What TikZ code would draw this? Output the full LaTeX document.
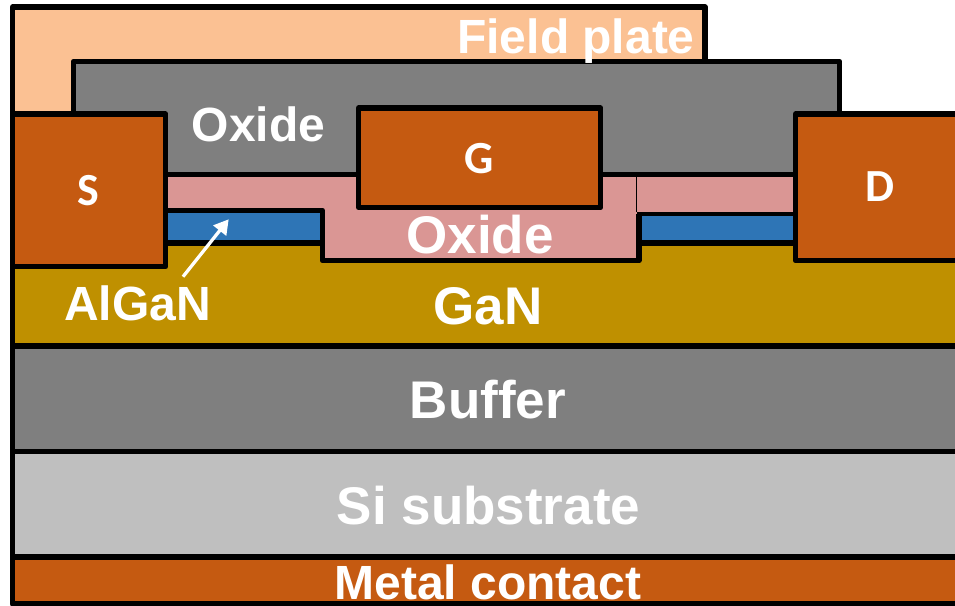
\documentclass[tikz,border=0pt]{standalone}
\usepackage{fontspec}
\usetikzlibrary{arrows.meta}
\setmainfont{Liberation Sans}
\newfontfamily\capfont{Carlito}
\definecolor{fp}{HTML}{FBC193}
\definecolor{oxg}{HTML}{7F7F7F}
\definecolor{metal}{HTML}{C55A11}
\definecolor{oxp}{HTML}{DA9694}
\definecolor{alg}{HTML}{2E75B6}
\definecolor{gan}{HTML}{BF9000}
\definecolor{si}{HTML}{BFBFBF}
\tikzset{x=1pt,y=-1pt,
 layer/.style={draw=black,line width=5.2pt,line join=round},
 lab/.style={text=white,font=\bfseries\fontsize{48}{50}\selectfont,inner sep=0pt},
 labbig/.style={text=white,font=\bfseries\fontsize{53}{55}\selectfont,inner sep=0pt},
 lab2/.style={text=white,font=\capfont\bfseries\fontsize{46}{48}\selectfont,inner sep=0pt}}
\begin{document}
\begin{tikzpicture}
\useasboundingbox (0,0) rectangle (955,605);
\path[fill=white] (0,0) rectangle (955,605);
% lower layers
\draw[layer,fill=gan] (12.5,243) -- (960,243) -- (960,346) -- (12.5,346) -- cycle;
\draw[layer,fill=oxg] (12.5,346) rectangle (960,451.7);
\draw[layer,fill=si] (12.5,451.7) rectangle (960,557);
\draw[layer,fill=metal] (12.5,557) rectangle (960,604);
% field plate
\draw[layer,fill=fp] (12.5,7) -- (705,7) -- (705,120) -- (12.5,120) -- cycle;
% upper oxide
\draw[layer,fill=oxg] (73.5,61.3) -- (839.5,61.3) -- (839.5,180) -- (73.5,180) -- cycle;
% AlGaN
\draw[layer,fill=alg] (160,210.5) rectangle (322.5,243);
\draw[layer,fill=alg] (639,213) rectangle (800,243);
% pink oxide
\path[fill=oxp] (165,175) -- (795,175) -- (795,212) -- (637,212) -- (637,260) -- (322,260) -- (322,210) -- (165,210) -- cycle;
\draw[line width=5.2pt,line join=round] (165,174.7) -- (795,174.7);
\draw[line width=5.2pt,line join=round] (165,210.5) -- (322.5,210.5) -- (322.5,260.7) -- (639,260.7) -- (639,214);
\draw[line width=2.5pt] (637,213) -- (795,213);
\draw[line width=.8pt] (636.7,177) -- (636.7,212);
% contacts
\draw[layer,fill=metal] (12.5,114) -- (165.8,114) -- (165.8,266.7) -- (12.5,266.7) -- cycle;
\draw[layer,fill=metal] (358.5,108) rectangle (600.8,207.5);
\draw[layer,fill=metal] (795.5,114) -- (960,114) -- (960,260.7) -- (795.5,260.7) -- cycle;
% arrow
\coordinate (a0) at (183,276.7);
\coordinate (a1) at (228.7,219.3);
\draw[white,line width=3.3pt,-{Triangle[length=14.5pt,width=16pt]}] (a0) -- (a1);
% labels
\node[lab,anchor=base] (fpl) at (576,53) {Field plate};
\node[lab,anchor=base] (ox1) at (258.5,141) {Oxide};
\node[labbig,anchor=base] (ox2) at (480,253) {Oxide};
\node[lab,anchor=base] (algl) at (137.5,320.5) {AlGaN};
\node[labbig,anchor=base] (ganl) at (488,324) {GaN};
\node[labbig,anchor=base] (buf) at (488,418) {Buffer};
\node[labbig,anchor=base] (sub) at (488.5,524) {Si substrate};
\node[lab,anchor=base] (mc) at (488,599) {Metal contact};
\node[lab2,anchor=base] (s) at (88.5,205.5) {S};
\node[lab2,anchor=base] (g) at (479,173) {G};
\node[lab2,anchor=base] (d) at (880,201.5) {D};
\end{tikzpicture}
\end{document}
